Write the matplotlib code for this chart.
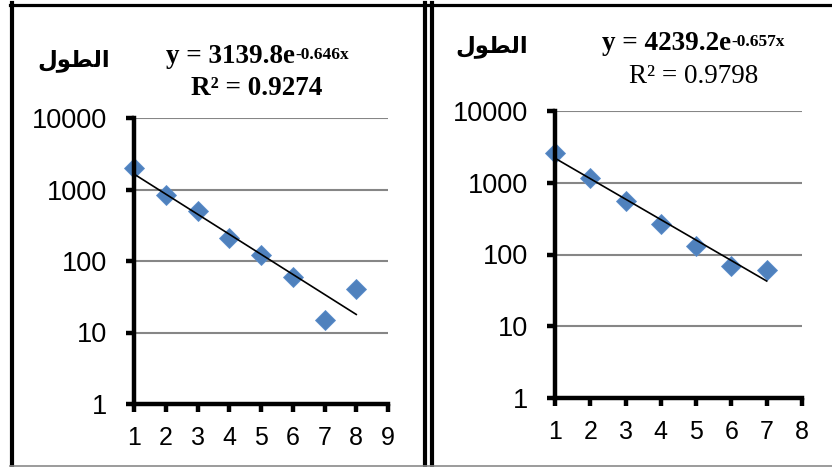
import numpy as np
import matplotlib
matplotlib.use("Agg")
import matplotlib.pyplot as plt
from matplotlib.lines import Line2D
from matplotlib.ticker import FixedLocator, NullLocator

# data
x_left = [1, 2, 3, 4, 5, 6, 7, 8]
y_left = [2000, 850, 500, 210, 120, 60, 15, 40]
x_right = [1, 2, 3, 4, 5, 6, 7]
y_right = [2600, 1150, 550, 270, 130, 70, 60]

# trendline equations shown on the chart
a_left, b_left = 3139.8, -0.646
a_right, b_right = 4239.2, -0.657

y_ticks = [1, 10, 100, 1000, 10000]
y_ticklabels = ["1", "10", "100", "1000", "10000"]
label_ar = "الطول"
# presentation forms, visual order (matplotlib does no Arabic shaping)
label_ar_shaped = "\uFEDD\uFEEE\uFEC4\uFEDF\uFE8D"

W, H = 832, 467
fig = plt.figure(figsize=(W / 100, H / 100), dpi=100)


def fx(px):
    return px / W


def fy(py):
    return 1 - py / H


def make_axes(rect, xs, ys, a, b, xmax):
    ax = fig.add_axes(rect)
    ax.set_yscale("log")
    ax.set_xlim(1, xmax)
    ax.set_ylim(1, 10000)
    ax.yaxis.set_major_locator(FixedLocator(y_ticks))
    ax.yaxis.set_minor_locator(NullLocator())
    ax.set_yticklabels(y_ticklabels)
    ax.set_xticks(range(1, xmax + 1))
    ax.grid(axis="y", color="#868686", lw=1.5)
    ax.set_axisbelow(True)
    for s in ["top", "right"]:
        ax.spines[s].set_visible(False)
    for s in ["left", "bottom"]:
        ax.spines[s].set_linewidth(3.2)
        ax.spines[s].set_zorder(5)
    ax.tick_params(axis="both", direction="out", length=6, width=3.2, colors="black")
    ax.tick_params(axis="y", labelsize=19.5, pad=13)
    ax.tick_params(axis="x", labelsize=18, pad=10)
    for lbl in ax.get_xticklabels() + ax.get_yticklabels():
        lbl.set_fontfamily("Liberation Sans")
    ax.plot(xs, ys, ls="none", marker="D", ms=10.3, color="#4F81BD",
            mec="#5B8DCB", mew=0.6, zorder=3, clip_on=False)
    xt = np.array([xs[0], xs[-1]], dtype=float)
    ax.plot(xt, a * np.exp(b * xt), color="black", lw=1.2, zorder=4)
    return ax


ax1 = make_axes([fx(134), fy(404), fx(388) - fx(134), fy(118) - fy(404)],
                x_left, y_left, a_left, b_left, 9)
ax2 = make_axes([fx(555), fy(398), fx(802) - fx(555), fy(111) - fy(398)],
                x_right, y_right, a_right, b_right, 8)


def equation(ax, x0, base_y, main, sup, r2_x, r2_y, r2, bold_r2):
    t = fig.text(fx(x0), fy(base_y), main, fontsize=19.5, fontweight="bold",
                 family="Liberation Serif", ha="left", va="baseline")
    ax.annotate(sup, xy=(1, 0), xycoords=t, xytext=(0.5, 7.5), textcoords="offset points",
                fontsize=12.5, fontweight="bold", family="Liberation Serif",
                ha="left", va="baseline", annotation_clip=False)
    fig.text(fx(r2_x), fy(r2_y), r2, fontsize=19.5,
             fontweight="bold" if bold_r2 else "normal",
             family="Liberation Serif", ha="center", va="baseline")


equation(ax1, 166, 63, "y = 3139.8e", "-0.646x", 257, 95, "R² = 0.9274", True)
equation(ax2, 602, 50, "y = 4239.2e", "-0.657x", 694, 83, "R² = 0.9798", False)

fig.text(fx(74), fy(60), label_ar_shaped, fontsize=16.5, fontweight="bold",
         family="DejaVu Sans", ha="center", va="center")
fig.text(fx(492), fy(46), label_ar_shaped, fontsize=16.5, fontweight="bold",
         family="DejaVu Sans", ha="center", va="center")

# panel frames
frame = [
    ((12, 12), (3, 467), "black", 3.0),
    ((10, 426.5), (4.5, 4.5), "black", 2.3),
    ((424.7, 424.7), (3, 467), "black", 3.0),
    ((432, 432), (3, 467), "black", 3.0),
    ((430, 832), (4.5, 4.5), "black", 2.3),
    ((10, 832), (466, 466), "#8a8a8a", 1.2),
]
for xs_, ys_, c, lw in frame:
    fig.add_artist(Line2D([fx(v) for v in xs_], [fy(v) for v in ys_], color=c, lw=lw))

fig.savefig("out.png", dpi=100)
